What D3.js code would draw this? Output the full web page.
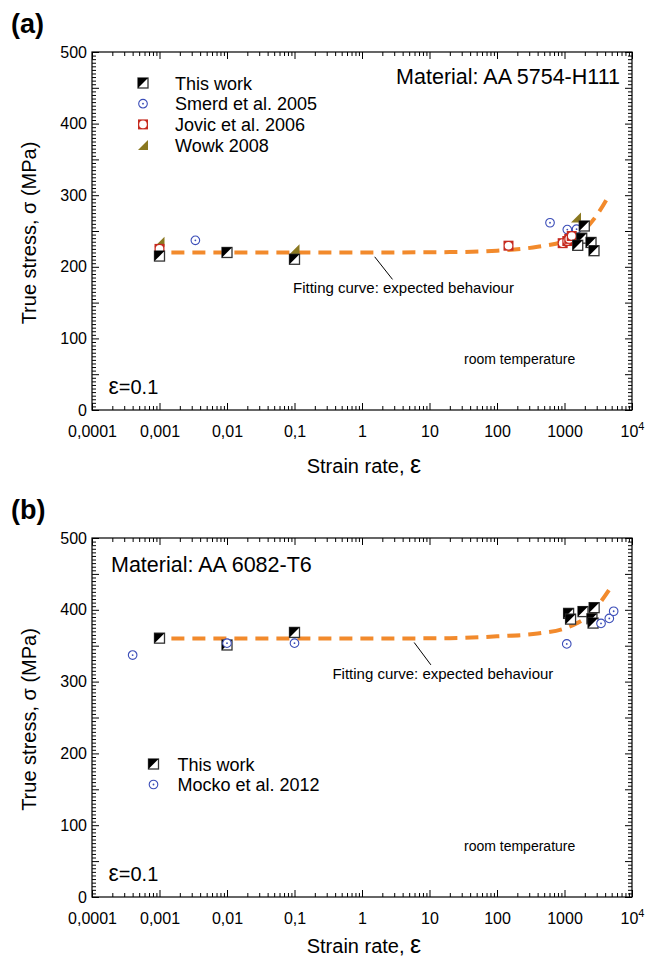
<!DOCTYPE html>
<html lang="en">
<head>
<meta charset="UTF-8">
<title>strain rate sensitivity</title>
<script src="https://cdn.jsdelivr.net/npm/d3@7"></script>
<style>
  body { margin: 0; background: #fff; }
  svg { display: block; font-family: "Liberation Sans", Arial, Helvetica, sans-serif; }
  .frame { fill: none; stroke: #000; stroke-width: 1.2; }
  .tick line { stroke: #000; stroke-width: 1; }
  .fit { fill: none; stroke: #f28a2c; stroke-width: 4; stroke-dasharray: 13 8; }
</style>
</head>
<body>
<div id="viz"></div>
<script>
// axis ticks
var rateTicks = [1e-4, 1e-3, 1e-2, 1e-1, 1, 10, 100, 1000, 1e4];
var rateLabels = ["0,0001", "0,001", "0,01", "0,1", "1", "10", "100", "1000", "10^4"];
var stressTicks = [0, 100, 200, 300, 400, 500];

// (a) AA 5754-H111 : [strain rate, true stress MPa]
var thisWorkA = [[0.001, 215], [0.01, 220], [0.1, 210.5], [1963, 257], [1800, 240], [1570, 230], [2470, 234], [2735, 222.5]];
var smerdA = [[0.0034, 237], [610, 261.5], [1100, 252], [1510, 252.5]];
var jovicA = [[0.001, 225], [148, 229.5], [940, 233], [1100, 236], [1175, 239], [1280, 243]];
var wowkA = [[0.001, 235], [0.1, 224.5], [1480, 269]];
var fitA = [[0.0015, 220], [1, 220], [20, 220.5], [100, 222.5], [400, 228], [1000, 236], [2000, 252], [3000, 272], [4700, 302]];

// (b) AA 6082-T6
var thisWorkB = [[0.001, 360.5], [0.01, 351], [0.1, 368.5], [1150, 395], [1230, 387], [1880, 397.5], [2750, 403], [2550, 387.5], [2650, 381.5]];
var mockoB = [[0.0004, 337], [0.01, 353.5], [0.1, 353.5], [1080, 352.5], [3475, 381], [4610, 388], [5350, 398]];
var fitB = [[0.0015, 360], [1, 360], [20, 360.5], [100, 363], [400, 367], [1000, 374], [1500, 381], [2500, 395], [3500, 412], [5000, 433]];

var blue = "#3b4db8", red = "#c62a1f", olive = "#8a7820";

var svg = d3.select("#viz").append("svg")
  .attr("width", 662)
  .attr("height", 957);

// marker painters, each draws into a group already translated to the point
var markers = {
  square: function (g) {
    g.append("rect").attr("x", -5).attr("y", -5).attr("width", 10).attr("height", 10)
      .attr("fill", "#fff").attr("stroke", "#333").attr("stroke-width", 1.3);
    g.append("path").attr("d", "M-5,-5L5,-5L-5,5Z").attr("fill", "#000");
  },
  circle: function (g) {
    g.append("circle").attr("r", 4.3).attr("fill", "#fff").attr("stroke", blue).attr("stroke-width", 1.1);
    g.append("circle").attr("r", 0.9).attr("fill", blue);
  },
  jovic: function (g) {
    g.append("rect").attr("x", -5).attr("y", -5).attr("width", 10).attr("height", 10).attr("fill", red);
    g.append("circle").attr("r", 3.8).attr("fill", "#fff");
  },
  wowk: function (g) {
    g.append("path").attr("d", "M5,-5L5,5L-5,5Z").attr("fill", olive);
  }
};

function drawPanel(p) {
  var x = d3.scaleLog().domain([1e-4, 1e4]).range([92, 632]);
  var y = d3.scaleLinear().domain([0, 500]).range([p.bottom, p.top]);
  var g = svg.append("g");

  var minorRates = [];
  d3.range(-4, 4).forEach(function (e) {
    d3.range(2, 10).forEach(function (k) { minorRates.push(k * Math.pow(10, e)); });
  });
  var minorStress = d3.range(0, 501, 5).filter(function (v) { return v % 50 !== 0; });
  var midStress = d3.range(0, 501, 50);

  // inward ticks on all four sides
  var bottomAxis = g.append("g").attr("transform", "translate(0," + p.bottom + ")")
    .call(d3.axisBottom(x).tickValues(rateTicks).tickSize(-7).tickPadding(16)
      .tickFormat(function (d, i) { return rateLabels[i]; }));
  g.append("g").attr("transform", "translate(0," + p.bottom + ")")
    .call(d3.axisBottom(x).tickValues(minorRates).tickSize(-4).tickFormat(""));
  g.append("g").attr("transform", "translate(0," + p.top + ")")
    .call(d3.axisTop(x).tickValues(rateTicks).tickSize(-7).tickFormat(""));
  g.append("g").attr("transform", "translate(0," + p.top + ")")
    .call(d3.axisTop(x).tickValues(minorRates).tickSize(-4).tickFormat(""));

  g.append("g").attr("transform", "translate(92,0)")
    .call(d3.axisLeft(y).tickValues(midStress).tickSize(-7).tickPadding(5)
      .tickFormat(function (d) { return stressTicks.indexOf(d) >= 0 ? d : ""; }));
  g.append("g").attr("transform", "translate(92,0)")
    .call(d3.axisLeft(y).tickValues(minorStress).tickSize(-4).tickFormat(""));
  g.append("g").attr("transform", "translate(632,0)")
    .call(d3.axisRight(y).tickValues(midStress).tickSize(-7).tickFormat(""));
  g.append("g").attr("transform", "translate(632,0)")
    .call(d3.axisRight(y).tickValues(minorStress).tickSize(-4).tickFormat(""));

  g.selectAll(".domain").remove();
  g.selectAll(".tick text").attr("font-size", 16).attr("fill", "#000")
    .attr("font-family", "'Liberation Sans', Arial, sans-serif");

  // 10^4 gets a real superscript
  bottomAxis.selectAll(".tick text").each(function () {
    var t = d3.select(this), s = t.text();
    if (s.indexOf("^") > 0) {
      var parts = s.split("^");
      t.text(parts[0]);
      t.append("tspan").attr("dy", "-0.65em").attr("font-size", 11).text(parts[1]);
    }
  });

  g.append("rect").attr("class", "frame")
    .attr("x", 92).attr("y", p.top).attr("width", 540).attr("height", p.bottom - p.top);

  // fitting curve
  var line = d3.line()
    .x(function (d) { return x(d[0]); })
    .y(function (d) { return y(d[1]); })
    .curve(d3.curveMonotoneX);
  g.append("path").datum(p.fit).attr("class", "fit").attr("d", line);

  p.series.forEach(function (s) {
    g.append("g").selectAll("g").data(s.data).enter().append("g")
      .attr("transform", function (d) { return "translate(" + x(d[0]) + "," + y(d[1]) + ")"; })
      .each(function () { markers[s.marker](d3.select(this)); });
  });

  // legend
  p.legend.forEach(function (s, i) {
    var ly = p.legendY + i * p.legendStep;
    markers[s.marker](g.append("g").attr("transform", "translate(" + p.legendX + "," + ly + ")"));
    g.append("text").attr("x", p.legendX + p.legendGap).attr("y", ly + 6.5)
      .attr("font-size", 18).text(s.name);
  });

  // labels and notes
  g.append("text").attr("x", 11).attr("y", p.top - 19)
    .attr("font-size", 27).attr("font-weight", "bold").text(p.tag);

  g.append("text").attr("x", p.matX).attr("y", p.matY)
    .attr("text-anchor", p.matAnchor).attr("font-size", 21.5).text(p.material);

  g.append("line").attr("x1", p.lead[0]).attr("y1", p.lead[1]).attr("x2", p.lead[2]).attr("y2", p.lead[3])
    .attr("stroke", "#000").attr("stroke-width", 1);
  g.append("text").attr("x", p.noteX).attr("y", p.noteY)
    .attr("font-size", 15).text("Fitting curve: expected behaviour");

  g.append("text").attr("x", 464).attr("y", p.bottom - 46)
    .attr("font-size", 14).text("room temperature");

  var eps = g.append("text").attr("x", 108.5).attr("y", p.bottom - 16).attr("font-size", 20);
  eps.append("tspan").attr("font-size", 23).text("ε");
  eps.append("tspan").text("=0.1");

  g.append("text")
    .attr("transform", "translate(36," + ((p.top + p.bottom) / 2 + 2) + ") rotate(-90)")
    .attr("text-anchor", "middle").attr("font-size", 20).text("True stress, σ (MPa)");

  var xt = g.append("text").attr("x", 364).attr("y", p.bottom + p.titleGap)
    .attr("text-anchor", "middle").attr("font-size", 20);
  xt.append("tspan").text("Strain rate, ");
  xt.append("tspan").attr("font-size", 25).text("ε");
}

drawPanel({
  tag: "(a)", top: 52, bottom: 410, fit: fitA, titleGap: 63,
  series: [
    { marker: "wowk", data: wowkA },
    { marker: "circle", data: smerdA },
    { marker: "jovic", data: jovicA },
    { marker: "square", data: thisWorkA }
  ],
  legend: [
    { marker: "square", name: "This work" },
    { marker: "circle", name: "Smerd et al. 2005" },
    { marker: "jovic", name: "Jovic et al. 2006" },
    { marker: "wowk", name: "Wowk 2008" }
  ],
  legendX: 143, legendY: 83, legendStep: 20.7, legendGap: 32,
  material: "Material: AA 5754-H111", matX: 620, matY: 84, matAnchor: "end",
  lead: [374.7, 256.8, 392.5, 279.4], noteX: 293, noteY: 292.5
});

drawPanel({
  tag: "(b)", top: 538, bottom: 897, fit: fitB, titleGap: 56,
  series: [
    { marker: "square", data: thisWorkB },
    { marker: "circle", data: mockoB }
  ],
  legend: [
    { marker: "square", name: "This work" },
    { marker: "circle", name: "Mocko et al. 2012" }
  ],
  legendX: 153.5, legendY: 764, legendStep: 20.5, legendGap: 24,
  material: "Material: AA 6082-T6", matX: 111, matY: 572, matAnchor: "start",
  lead: [414.2, 642.5, 430.9, 664.9], noteX: 332.4, noteY: 678.5
});
</script>
</body>
</html>
